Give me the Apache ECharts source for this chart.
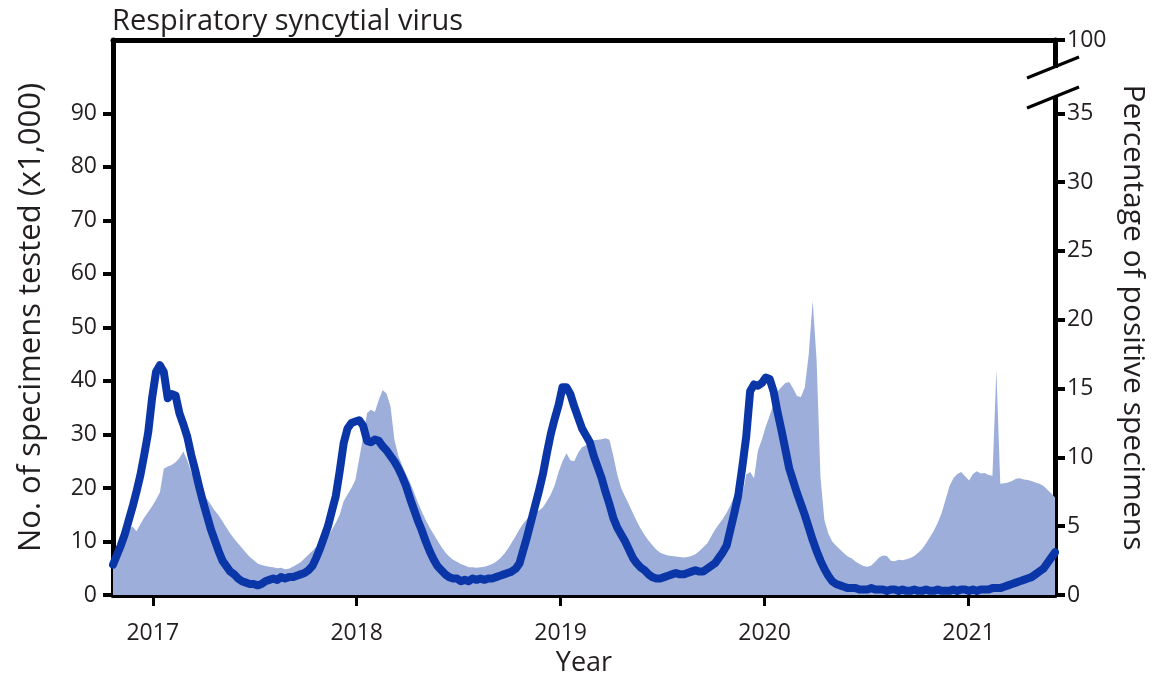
<!DOCTYPE html>
<html><head><meta charset="utf-8">
<script src="https://cdn.jsdelivr.net/npm/echarts@6/dist/echarts.min.js"></script>
<style>html,body{margin:0;padding:0;background:#fff}#c{width:1152px;height:678px}</style>
</head><body><div id="c"></div>
<script>
const chartTitle = 'Respiratory syncytial virus';
const xAxisName = 'Year';
const leftAxisName = 'No. of specimens tested (x1,000)';
const rightAxisName = 'Percentage of positive specimens';
const firstWeek = 2016.805; // decimal year of first weekly observation
const yearTicks = [2017, 2018, 2019, 2020, 2021];
const leftTicks = [0, 10, 20, 30, 40, 50, 60, 70, 80, 90];
const rightTicks = [0, 5, 10, 15, 20, 25, 30, 35];
const rightTopLabel = '100';

// Percentage of positive specimens (weekly)
const pctPositive = [
  2.2,2.9,3.6,4.4,5.4,6.4,7.5,8.7,10.2,11.8,
  14.3,16.2,16.7,16.2,14.3,14.6,14.5,13.2,12.4,11.5,
  10.2,9.1,7.9,6.8,5.8,4.8,4.0,3.2,2.5,2.1,
  1.7,1.5,1.2,1.0,0.9,0.8,0.8,0.7,0.8,1.0,
  1.1,1.2,1.1,1.3,1.2,1.3,1.3,1.4,1.5,1.6,
  1.8,2.1,2.7,3.4,4.2,5.0,6.1,7.2,9.0,11.0,
  12.1,12.5,12.6,12.7,12.3,11.2,11.1,11.3,11.2,10.8,
  10.5,10.1,9.7,9.2,8.6,7.9,7.0,6.2,5.4,4.7,
  3.9,3.2,2.6,2.1,1.8,1.5,1.3,1.2,1.2,1.0,
  1.1,1.0,1.2,1.1,1.2,1.1,1.2,1.2,1.3,1.4,
  1.5,1.6,1.7,1.9,2.3,3.3,4.3,5.4,6.5,7.6,
  8.8,10.3,11.7,12.8,13.8,15.1,15.1,14.6,13.7,12.9,
  12.1,11.6,11.1,10.1,9.3,8.5,7.5,6.6,5.6,4.9,
  4.4,3.9,3.3,2.7,2.3,2.0,1.8,1.5,1.3,1.2,
  1.2,1.3,1.4,1.5,1.6,1.5,1.5,1.6,1.7,1.8,
  1.7,1.7,1.9,2.1,2.3,2.7,3.1,3.6,4.8,6.0,
  7.3,9.3,11.5,14.8,15.3,15.2,15.4,15.8,15.7,14.8,
  13.3,12.0,10.6,9.2,8.3,7.4,6.6,5.8,4.9,4.0,
  3.2,2.5,1.9,1.4,1.0,0.8,0.7,0.6,0.5,0.5,
  0.5,0.4,0.4,0.4,0.5,0.4,0.4,0.4,0.3,0.4,
  0.4,0.3,0.4,0.3,0.3,0.4,0.3,0.3,0.4,0.3,
  0.3,0.4,0.3,0.3,0.3,0.4,0.3,0.4,0.4,0.3,
  0.4,0.3,0.4,0.4,0.4,0.5,0.5,0.5,0.6,0.7,
  0.8,0.9,1.0,1.1,1.2,1.3,1.5,1.7,1.9,2.3,
  2.7,3.1
];

// Number of specimens tested, thousands (weekly)
const specimensTested = [
  6.2,8.0,10.0,11.2,12.3,12.8,11.9,13.2,14.5,15.5,
  16.6,17.8,19.2,23.6,24.0,24.3,24.8,25.6,26.8,25.2,
  23.0,21.4,20.0,19.0,18.0,16.9,15.8,14.9,13.8,12.6,
  11.5,10.5,9.6,8.8,7.9,7.1,6.5,5.9,5.6,5.4,
  5.3,5.2,5.0,5.1,4.8,4.9,5.3,5.7,6.1,6.8,
  7.5,8.2,9.0,9.7,10.3,11.0,12.2,13.5,15.0,17.5,
  18.8,20.0,21.5,25.5,29.5,34.0,34.6,34.2,36.5,38.3,
  37.6,35.2,29.0,26.0,24.2,22.5,21.0,19.2,17.3,15.6,
  14.0,12.6,11.4,10.2,9.0,8.0,7.2,6.6,6.2,5.8,
  5.5,5.2,5.2,5.1,5.2,5.3,5.5,5.8,6.2,6.8,
  7.6,8.6,9.8,11.0,12.3,13.4,14.3,15.0,15.4,15.8,
  16.4,17.5,18.8,20.5,23.0,25.0,26.5,25.2,25.0,26.6,
  27.6,28.0,28.4,28.9,29.0,29.1,29.3,29.0,26.0,22.5,
  20.0,18.4,16.9,15.3,13.8,12.4,11.2,10.2,9.3,8.5,
  7.9,7.6,7.4,7.3,7.2,7.1,7.0,7.1,7.3,7.6,
  8.2,8.9,9.6,10.9,12.2,13.2,14.2,15.4,16.8,18.6,
  18.8,18.6,22.5,23.0,21.8,27.0,29.0,31.5,33.5,35.8,
  38.0,38.8,39.6,39.8,38.6,37.2,37.0,38.8,45.0,55.0,
  44.0,22.0,14.0,11.5,10.0,9.2,8.5,7.8,7.2,6.8,
  6.2,5.8,5.4,5.3,5.5,6.2,7.0,7.4,7.3,6.4,
  6.3,6.6,6.5,6.7,6.9,7.3,7.9,8.6,9.6,10.8,
  12.0,13.5,15.3,17.8,20.3,21.8,22.6,23.0,22.2,21.4,
  22.6,23.1,22.7,22.8,22.4,22.3,42.0,20.8,20.9,21.0,
  21.3,21.7,21.8,21.6,21.5,21.3,21.0,20.8,20.4,19.7,
  19.0,18.2
];

const FONT = '"Open Sans", "Noto Sans", sans-serif';
const TXT = '#231f20';
const weekX = pctPositive.map((_, i) => firstWeek + i * 7 / 365.25);
const xMin = weekX[0], xMax = weekX[weekX.length - 1];
const leftMax = 103.7;
const rightMax = leftMax * 35 / 90;

const chart = echarts.init(document.getElementById('c'));
const axisLineStyle = { color: '#000', width: 5 };

chart.setOption({
  animation: false,
  backgroundColor: '#fff',
  title: {
    text: chartTitle, left: 107, top: 2,
    textStyle: { fontFamily: FONT, fontSize: 29, fontWeight: 'normal', color: TXT }
  },
  grid: { left: 113, right: 97, top: 40, bottom: 83, containLabel: false, outerBoundsMode: 'none' },
  xAxis: [{
    type: 'value', min: xMin, max: xMax, position: 'bottom',
    name: xAxisName, nameLocation: 'middle', nameGap: 50,
    nameTextStyle: { fontFamily: FONT, fontSize: 27, color: TXT },
    splitLine: { show: false },
    axisLine: { show: true, onZero: false, lineStyle: axisLineStyle },
    axisTick: { show: true, customValues: yearTicks, length: 11, lineStyle: { color: '#000', width: 3 } },
    axisLabel: { customValues: yearTicks, formatter: v => String(Math.round(v)), margin: 27,
      fontFamily: FONT, fontSize: 23, color: TXT }
  }, {
    type: 'value', min: xMin, max: xMax, position: 'top',
    splitLine: { show: false },
    axisLine: { show: true, onZero: false, lineStyle: axisLineStyle },
    axisTick: { show: false }, axisLabel: { show: false }
  }],
  yAxis: [{
    type: 'value', min: 0, max: leftMax, position: 'left',
    name: leftAxisName, nameLocation: 'middle', nameGap: 66, nameRotate: 90,
    nameTextStyle: { fontFamily: FONT, fontSize: 31, color: TXT },
    splitLine: { show: false },
    axisLine: { show: true, onZero: false, lineStyle: axisLineStyle },
    axisTick: { show: true, customValues: leftTicks, length: 10, lineStyle: { color: '#000', width: 4 } },
    axisLabel: { customValues: leftTicks, margin: 16, fontFamily: FONT, fontSize: 23, color: TXT }
  }, {
    type: 'value', min: 0, max: rightMax, position: 'right',
    name: rightAxisName, nameLocation: 'middle', nameGap: 57, nameRotate: -90,
    nameTextStyle: { fontFamily: FONT, fontSize: 30, color: TXT },
    splitLine: { show: false },
    axisLine: { show: true, onZero: false, lineStyle: axisLineStyle },
    axisTick: { show: true, customValues: rightTicks.concat([rightMax]), length: 10, lineStyle: { color: '#000', width: 4 } },
    axisLabel: { customValues: rightTicks.concat([rightMax]), margin: 12,
      formatter: v => (v > 36 ? rightTopLabel : String(v)),
      fontFamily: FONT, fontSize: 23, color: TXT }
  }],
  series: [{
    name: 'Specimens tested', type: 'line', xAxisIndex: 0, yAxisIndex: 0,
    data: weekX.map((x, i) => [x, specimensTested[i]]),
    symbol: 'none', lineStyle: { width: 0 },
    areaStyle: { color: '#9caed9', opacity: 1 }, z: 1
  }, {
    name: 'Percent positive', type: 'line', xAxisIndex: 0, yAxisIndex: 1,
    data: weekX.map((x, i) => [x, pctPositive[i]]),
    symbol: 'none', lineStyle: { width: 8, color: '#0a36a8', join: 'round', cap: 'round' }, z: 3
  }]
});

// axis-break marks on the right axis between 35 and 100
const X = chart.convertToPixel({ xAxisIndex: 0 }, xMax);
const yTop = chart.convertToPixel({ yAxisIndex: 1 }, rightMax);
const y1 = yTop + 27, y2 = yTop + 57;
chart.setOption({
  graphic: [
    { type: 'rect', shape: { x: X - 5, y: y1 + 1, width: 10, height: y2 - y1 - 2 }, style: { fill: '#fff' }, z: 100 },
    { type: 'line', shape: { x1: X - 28, y1: y1 + 11, x2: X + 24, y2: y1 - 10 }, style: { stroke: '#000', lineWidth: 3 }, z: 101 },
    { type: 'line', shape: { x1: X - 28, y1: y2 + 11, x2: X + 24, y2: y2 - 10 }, style: { stroke: '#000', lineWidth: 3 }, z: 101 }
  ]
});
</script>
</body></html>
